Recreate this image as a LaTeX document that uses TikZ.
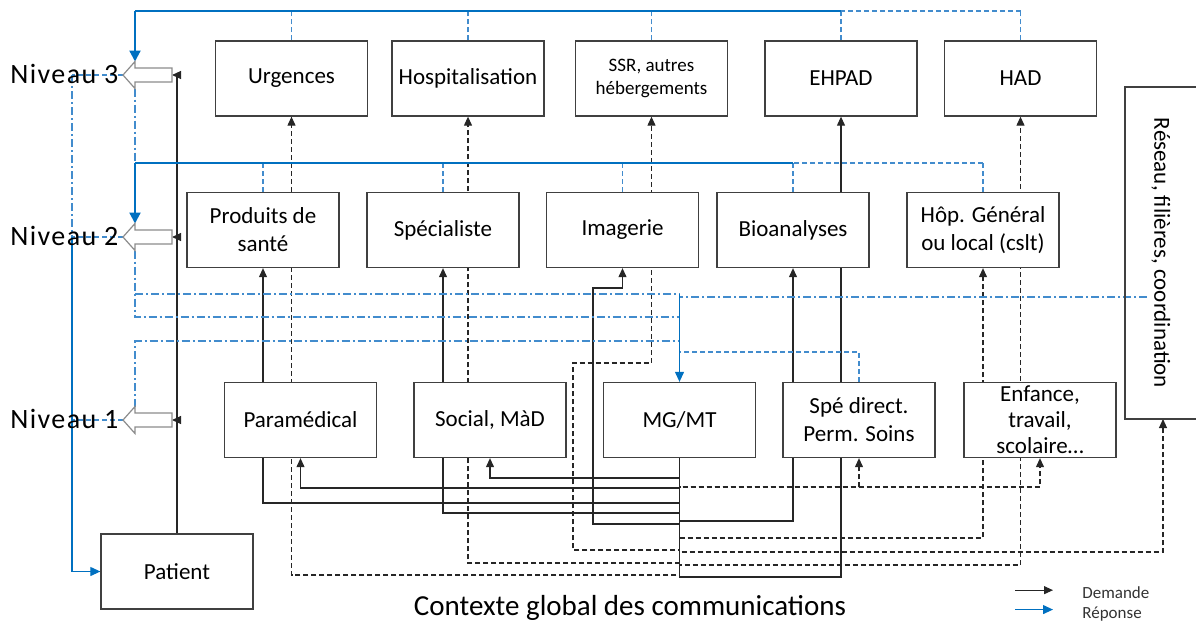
\documentclass[tikz,border=0pt]{standalone}
\usepackage{fontspec}
\setmainfont{Carlito}
\usetikzlibrary{arrows.meta}
\pgfdeclarelayer{bg}
\pgfsetlayers{bg,main}
\definecolor{repblue}{RGB}{0,112,192}
\definecolor{replight}{RGB}{66,140,205}

\begin{document}
\begin{tikzpicture}[x=0.5pt, y=-0.5pt, >={Triangle[length=4.5pt,width=4pt]},
    box/.style={draw=black!75, line width=0.65pt, fill=white, minimum width=76pt, minimum height=37.5pt,
        inner sep=1pt, align=center, font=\fontsize{11.5}{14}\selectfont},
    dem/.style={black!85, line width=0.55pt},
    demd/.style={dem, dash pattern=on 2.5pt off 1.5pt},
    rep/.style={repblue, line width=0.55pt},
    repd/.style={replight, line width=0.55pt, dash pattern=on 2.5pt off 1.5pt},
    repdd/.style={replight, line width=0.55pt, dash pattern=on 4pt off 1.5pt on 1pt off 1.5pt},
    repthick/.style={repblue, line width=1.1pt, -{Triangle[length=5.5pt,width=5.5pt]}},
    repar/.style={rep, -{Triangle[length=5pt,width=4.5pt]}},
    niv/.style={draw=black!45, line width=0.6pt, fill=white},
    lvl/.style={font=\fontsize{14}{16}\selectfont\addfontfeature{LetterSpace=5}, inner sep=0pt}]
    \useasboundingbox (0,0) rectangle (1196,623);

    % niveau 3
    \node[box] (urg) at (291.5,78.5) {Urgences};
    \node[box] (hosp) at (468,78.5) {Hospitalisation};
    \node[box, font=\fontsize{9.5}{11.5}\selectfont] (ssr) at (651.5,78.5) {SSR, autres\\hébergements};
    \node[box] (ehpad) at (841,78.5) {EHPAD};
    \node[box] (had) at (1020.5,78.5) {HAD};
    % niveau 2
    \node[box] (prod) at (263,230) {Produits de\\santé};
    \node[box] (spec) at (443,230) {Spécialiste};
    \node[box] (imag) at (622.5,230) {Imagerie};
    \node[box] (bio) at (793,230) {Bioanalyses};
    \node[box] (hop) at (983,230) {Hôp. Général\\ou local (cslt)};
    % niveau 1
    \node[box] (para) at (300.5,420) {Paramédical};
    \node[box] (soc) at (490,420) {Social, MàD};
    \node[box] (mg) at (679.5,420) {MG/MT};
    \node[box] (spe) at (859,420) {Spé direct.\\Perm. Soins};
    \node[box, inner sep=0pt, font=\fontsize{11.5}{13}\selectfont] (enf) at (1040,420) {Enfance,\\travail,\\scolaire…};
    \node[box] (pat) at (177,571.5) {Patient};
    % reseau
    \node[draw=black!75, line width=0.65pt, minimum width=57pt, minimum height=166pt] (res) at (1182,253) {};
    \node[rotate=-90, font=\fontsize{11.5}{14}\selectfont] (restxt) at (1161,253) {Réseau, filières, coordination};
    \coordinate (resin) at (1163,419);
    \coordinate (resl) at (1147,297);

    % fleches creuses des niveaux
    \foreach \y/\n in {75/3,237/2,420/1} {
        \draw[niv] (123,\y) -- (135,{\y-13.5}) -- (135,{\y-7}) -- (172,{\y-7}) -- (172,{\y+7})
            -- (135,{\y+7}) -- (135,{\y+13.5}) -- cycle;
        \coordinate (p\n) at (123,\y);
        \coordinate (n\n) at (172,\y);
        \coordinate (t\n) at (135,{\y-13.5});
        \coordinate (b\n) at (135,{\y+13.5});
        \node[lvl, anchor=base west] (niv\n) at (10,{\y+8}) {Niveau \n};
    }
    \coordinate (top3) at (135,11);
    \coordinate (top2) at (135,163);
    \coordinate (lft) at (72,0);

    \begin{pgfonlayer}{bg}
    % demandes du patient
    \draw[dem] (pat.north) -- (pat.north |- n3);
    \foreach \n in {1,2,3} \draw[dem,->] (pat.north |- n\n) -- (n\n);
    % demandes du MG/MT
    \draw[dem,->] (mg.south) |- (490,478) -- (soc.south);
    \draw[dem,->] (mg.south) |- (300.5,488) -- (para.south);
    \draw[dem,->] (mg.south) |- (263,503) -- (prod.south);
    \draw[dem,->] (mg.south) |- (443,513) -- (spec.south);
    \draw[dem,->] (mg.south) |- (793,521) -- (bio.south);
    \draw[dem,->] (mg.south) |- (593,524) |- (622.5,288) -- (imag.south);
    \draw[dem,->] (mg.south) |- (841,577) -- (ehpad.south);
    \draw[demd,->] (mg.south) |- (291.5,575) -- (urg.south);
    \draw[demd,->] (mg.south) |- (468,563) -- (hosp.south);
    \draw[demd,->] (mg.south) |- (573,550) |- (651.5,363) -- (ssr.south);
    \draw[demd,->] (mg.south) |- (1020.5,565) -- (had.south);
    \draw[demd,->] (mg.south) |- (983,538) -- (hop.south);
    \draw[demd,->] (mg.south) |- (1163,552) -- (resin);
    \draw[demd,->] (mg.south) |- (1040,487) -- (enf.south);
    \draw[demd,->] (mg.south) |- (859,487) -- (spe.south);
    % reponses niveau 3
    \foreach \b in {urg,hosp,ssr,ehpad,had} \draw[repd] (\b.north) -- (\b.north |- top3);
    \draw[repd] (had.north |- top3) -- (ehpad.north |- top3);
    \draw[rep] (ehpad.north |- top3) -- (top3);
    \draw[repthick] (top3) -- (t3);
    % reponses niveau 2
    \foreach \b in {prod,spec,imag,bio,hop} \draw[repd] (\b.north) -- (\b.north |- top2);
    \draw[repd] (hop.north |- top2) -- (bio.north |- top2);
    \draw[rep] (bio.north |- top2) -- (top2);
    \draw[repthick] (top2) -- (t2);
    % reponses vers le MG/MT
    \draw[repdd] (b3) -- (top2);
    \draw[repdd] (b2) |- (679.5,317);
    \draw[repdd] (135,294) -- (679.5,294);
    \draw[repdd] (t1) |- (679.5,341);
    \draw[repdd] (resl) -- (679.5,297);
    \draw[repar] (679.5,294) -- (mg.north);
    \draw[repd] (spe.north) |- (679.5,352);
    % reponses vers le patient
    \foreach \n in {1,2,3} \draw[repd] (p\n) -- (p\n -| lft);
    \draw[repdd] (p3 -| lft) -- (p2 -| lft);
    \draw[repar] (p2 -| lft) |- (pat.west);
    \end{pgfonlayer}

    % legende
    \node[anchor=base west, font=\fontsize{8.5}{10}\selectfont, text=black!80, inner sep=0pt] (ldem) at (1082,598) {Demande};
    \node[anchor=base west, font=\fontsize{8.5}{10}\selectfont, text=black!80, inner sep=0pt] (lrep) at (1082,618) {Réponse};
    \draw[dem,->] ([xshift=-33.5pt,yshift=1pt]ldem.west) -- ([xshift=-14.5pt,yshift=1pt]ldem.west);
    \draw[repar] ([xshift=-33.5pt,yshift=2pt]lrep.west) -- ([xshift=-14.5pt,yshift=2pt]lrep.west);
    \node[anchor=base, font=\fontsize{14.5}{16}\selectfont, inner sep=0pt] (ttl) at (630,615) {Contexte global des communications};
\end{tikzpicture}
\end{document}
